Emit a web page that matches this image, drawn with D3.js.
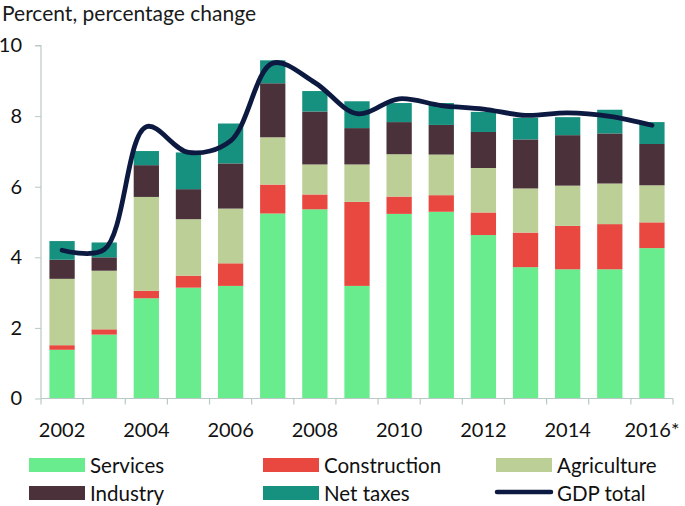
<!DOCTYPE html>
<html>
<head>
<meta charset="utf-8">
<script src="https://cdn.jsdelivr.net/npm/d3@7"></script>
<style>
  html, body { margin: 0; padding: 0; background: #fff; }
  svg { display: block; font-family: Lato, "Open Sans", sans-serif; }
</style>
</head>
<body>
<svg id="chart" width="685" height="506"></svg>
<script>
const years = ["2002","2003","2004","2005","2006","2007","2008","2009","2010","2011","2012","2013","2014","2015","2016*"];
const tickYears = ["2002","2004","2006","2008","2010","2012","2014","2016*"];
const services     = [1.38,1.81,2.84,3.14,3.19,5.24,5.36,3.19,5.23,5.29,4.63,3.72,3.66,3.66,4.26];
const construction = [0.13,0.15,0.21,0.34,0.64,0.82,0.42,2.38,0.49,0.47,0.64,0.98,1.23,1.28,0.73];
const agriculture  = [1.88,1.66,2.66,1.60,1.55,1.34,0.85,1.06,1.20,1.15,1.26,1.25,1.14,1.15,1.05];
const industry     = [0.54,0.38,0.90,0.85,1.28,1.53,1.50,1.03,0.91,0.84,1.02,1.39,1.43,1.42,1.17];
const netTaxes     = [0.53,0.42,0.40,1.04,1.13,0.65,0.58,0.76,0.54,0.62,0.57,0.61,0.51,0.67,0.62];
const gdpTotal     = [4.20,4.22,7.70,6.97,7.30,9.50,8.95,8.07,8.49,8.30,8.20,8.02,8.09,7.99,7.74];
const yTicks = [0,2,4,6,8,10];

const seriesNames = ["Services","Construction","Agriculture","Industry","Net taxes"];
const seriesData = [services, construction, agriculture, industry, netTaxes];
const colors = ["#68ec8e","#e8483f","#bccf96","#4b3139","#17917f"];
const lineColor = "#0c1a42";

const svg = d3.select("#chart");
const mLeft = 41, mRight = 673, mTop = 45.5, mBottom = 398.5;

const x = d3.scaleBand().domain(years).range([mLeft, mRight]).paddingInner(0.4).paddingOuter(0.2);
const y = d3.scaleLinear().domain([0, 10]).range([mBottom, mTop]);

const table = years.map((yr, i) => {
  const o = { year: yr };
  seriesNames.forEach((n, k) => o[n] = seriesData[k][i]);
  return o;
});
const stacked = d3.stack().keys(seriesNames)(table);

svg.append("text").attr("x", 2).attr("y", 21)
  .attr("font-size", 21).attr("fill", "#1a1a1a").text("Percent, percentage change");

svg.append("g").selectAll("g").data(stacked).join("g")
  .attr("fill", (d, i) => colors[i])
  .selectAll("rect").data(d => d).join("rect")
  .attr("x", d => x(d.data.year))
  .attr("width", x.bandwidth())
  .attr("y", d => y(d[1]))
  .attr("height", d => y(d[0]) - y(d[1]));

const axisColor = "#b9c9c5";
const yAxis = svg.append("g").attr("transform", `translate(${mLeft},0)`)
  .call(d3.axisLeft(y).tickValues(yTicks).tickSize(6).tickPadding(13));
const xAxis = svg.append("g").attr("transform", `translate(0,${mBottom})`)
  .call(d3.axisBottom(x).tickValues(tickYears).tickSize(0).tickPadding(24));
[yAxis, xAxis].forEach(g => {
  g.select(".domain").attr("stroke", axisColor).attr("stroke-width", 1.2);
  g.selectAll(".tick line").attr("stroke", axisColor);
  g.selectAll("text").attr("font-size", 20).attr("fill", "#111").attr("font-family", "Lato, sans-serif");
});
yAxis.select(".domain").attr("d", `M-6,${mTop}H0V${mBottom}`);
xAxis.select(".domain").attr("d", `M${mLeft},0H${mRight}`);
xAxis.append("g").selectAll("line").data(d3.range(years.length + 1)).join("line")
  .attr("x1", i => mLeft + i * (mRight - mLeft) / years.length)
  .attr("x2", i => mLeft + i * (mRight - mLeft) / years.length)
  .attr("y1", 0).attr("y2", 6)
  .attr("stroke", axisColor).attr("stroke-width", 1.2);

const line = d3.line()
  .x((d, i) => x(years[i]) + x.bandwidth() / 2)
  .y(d => y(d))
  .curve(d3.curveCatmullRom.alpha(0.5));
svg.append("path").datum(gdpTotal).attr("d", line)
  .attr("fill", "none").attr("stroke", lineColor).attr("stroke-width", 4.8)
  .attr("stroke-linecap", "round").attr("stroke-linejoin", "round");

const legendItems = [
  { name: "Services", type: "rect", color: colors[0], x: 29, y: 458 },
  { name: "Construction", type: "rect", color: colors[1], x: 263, y: 458 },
  { name: "Agriculture", type: "rect", color: colors[2], x: 496, y: 458 },
  { name: "Industry", type: "rect", color: colors[3], x: 29, y: 486 },
  { name: "Net taxes", type: "rect", color: colors[4], x: 263, y: 486 },
  { name: "GDP total", type: "line", color: lineColor, x: 496, y: 486 }
];
const lg = svg.append("g").selectAll("g").data(legendItems).join("g")
  .attr("transform", d => `translate(${d.x},${d.y})`);
lg.filter(d => d.type === "rect").append("rect")
  .attr("width", 56).attr("height", 14).attr("fill", d => d.color);
lg.filter(d => d.type === "line").append("line")
  .attr("x1", 1).attr("x2", 55).attr("y1", 6).attr("y2", 6)
  .attr("stroke", d => d.color).attr("stroke-width", 4.5).attr("stroke-linecap", "round");
lg.append("text").attr("x", 61).attr("y", 15)
  .attr("font-size", 20.5).attr("fill", "#111").text(d => d.name);
</script>
</body>
</html>
